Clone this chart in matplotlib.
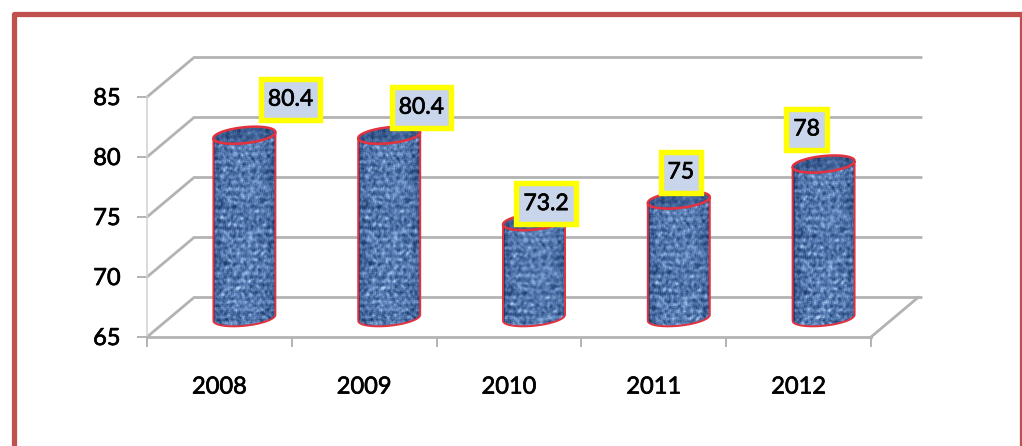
import numpy as np
import matplotlib
matplotlib.use("Agg")
import matplotlib.pyplot as plt
import matplotlib.patheffects as pe
from matplotlib.patches import PathPatch, Rectangle
from matplotlib.path import Path
from matplotlib.colors import LinearSegmentedColormap

years = ["2008", "2009", "2010", "2011", "2012"]
values = [80.4, 80.4, 73.2, 75, 78]
value_labels = ["80.4", "80.4", "73.2", "75", "78"]
y_ticks = [65, 70, 75, 80, 85]

W, H = 1022, 446
plt.rcParams["font.family"] = ["Lato", "DejaVu Sans"]
fig = plt.figure(figsize=(W / 100, H / 100), dpi=100, facecolor="white")

# outer frame
fig.add_artist(Rectangle((13.5 / W, -0.05), (1022 - 13.5) / W, 1.05 - 14.5 / H, transform=fig.transFigure,
                         fc="none", ec="#c0504d", lw=3.8, joinstyle="round"))

ax = fig.add_axes([147 / W, 1 - 337 / H, (871 - 147) / W, 240 / H])
ax.patch.set_alpha(0)

PXX = 724 / 5   # pixels per category
PXY = 12.0      # pixels per value unit
GRID = "#b3b3b3"
STROKE = [pe.withStroke(linewidth=0.5, foreground="black")]

# 3-D wall depth
back_dx, back_dy = 47 / PXX, 39.5 / PXY
for v in y_ticks:
    ax.plot([-0.5, -0.5 + back_dx, 4.5 + back_dx + 3 / PXX], [v, v + back_dy, v + back_dy],
            color=GRID, lw=2.0, clip_on=False, zorder=1, solid_joinstyle="miter")
ax.plot([4.5, 4.5 + back_dx], [65, 65 + back_dy], color=GRID, lw=2.0, clip_on=False, zorder=1)


def texture(h, w):
    i, j = np.mgrid[0:h, 0:w]
    n = np.sin(i * 12.9898 + j * 78.233) * 43758.5453
    n = n - np.floor(n)
    k = 3
    c = np.cumsum(np.cumsum(np.pad(n, ((k, 0), (k, 0))), axis=0), axis=1)
    s = (c[k:, k:] - c[:-k, k:] - c[k:, :-k] + c[:-k, :-k]) / (k * k)
    s = (s - s.mean()) / s.std()
    weave = 0.65 * np.sin(i * 2 * np.pi / 7.0) + 0.25 * np.sin(j * 2 * np.pi / 7.0)
    t = 0.5 + 0.17 * s + 0.15 * weave
    u = (j - w / 2) / (w / 2)
    t = t - 0.25 * np.abs(u) ** 3
    return np.clip(t, 0, 1)


cmap = LinearSegmentedColormap.from_list("weave", ["#1f3a68", "#41659b", "#6b90c6", "#b5cff0"])


def label_box(x0, y0, width, height, mutation_size):
    """Rectangle round a label, with more room above and below than at the sides."""
    px, py = 7.0, 10.0
    return Path([(x0 - px, y0 - py), (x0 + width + px, y0 - py), (x0 + width + px, y0 + height + py),
                 (x0 - px, y0 + height + py), (x0 - px, y0 - py)], closed=True)


# cylinders
off_x = 25 / PXX
off_top = 17 / PXY      # top cap centre above its value line
base_level = 66.6       # centre of the bottom ellipse
half_w = 31 / PXX
ry = 8.0 / PXY
tilt = 3.0 / PXY
t_front = np.linspace(np.pi, 2 * np.pi, 40)
t_all = np.linspace(0, 2 * np.pi, 80)
label_offsets_px = [(46, 36), (32, 28), (12, 18), (2, 28), (-17, 35)]

for idx, v in enumerate(values):
    cx = idx + off_x
    top = v + off_top
    xb = cx + half_w * np.cos(t_front)
    yb = base_level + ry * np.sin(t_front) + tilt * np.cos(t_front)
    xt = cx + half_w * np.cos(t_front[::-1])
    yt = top + ry * np.sin(t_front[::-1]) + tilt * np.cos(t_front[::-1])
    verts = np.vstack([np.column_stack([xb, yb]), np.column_stack([xt, yt])])
    tex_h = int((top - base_level + 2 * ry + 2 * tilt) * PXY)
    extent = (cx - half_w, cx + half_w, base_level - ry - tilt, top + ry + tilt)
    img = ax.imshow(texture(tex_h, 62), cmap=cmap, vmin=0, vmax=1, aspect="auto", zorder=3.1,
                    interpolation="bilinear", extent=extent)
    img.set_clip_path(PathPatch(Path(verts), transform=ax.transData))
    ax.add_patch(PathPatch(Path(np.vstack([verts, verts[:1]])), fc="none", ec="#e2323f", lw=1.4,
                           zorder=3.2, clip_on=False))
    xc = cx + half_w * np.cos(t_all)
    yc = top + ry * np.sin(t_all) + tilt * np.cos(t_all)
    cap_path = Path(np.column_stack([xc, yc]))
    cap_img = ax.imshow(texture(tex_h, 62) * 0.6, cmap=cmap, vmin=0, vmax=1, aspect="auto", zorder=3.3,
                        interpolation="bilinear", extent=extent)
    cap_img.set_clip_path(PathPatch(cap_path, transform=ax.transData))
    ax.add_patch(PathPatch(cap_path, fc="none", ec="#e2323f", lw=1.8, zorder=3.4, clip_on=False))
    ox, oy = label_offsets_px[idx]
    ax.annotate(value_labels[idx], xy=(cx, top), xytext=(ox * 0.72, oy * 0.72),
                textcoords="offset points", ha="center", va="center", fontsize=16.5, color="black", zorder=6,
                annotation_clip=False, path_effects=STROKE,
                bbox=dict(boxstyle=label_box, fc="#c9d5ea", ec="#ffff00", lw=3.9))

ax.set_xlim(-0.5, 4.5)
ax.set_ylim(65, 85)

for s in ("top", "right"):
    ax.spines[s].set_visible(False)
ax.spines["left"].set_color("#d4d4d4")
ax.spines["left"].set_linewidth(1.2)
ax.spines["bottom"].set_color(GRID)
ax.spines["bottom"].set_linewidth(2.0)

ax.set_yticks(y_ticks)
ax.set_yticklabels([])
ax.set_xticks(np.arange(-0.5, 5, 1))
ax.set_xticklabels([])
ax.set_xticks(np.arange(0, 5), labels=years, minor=True)
ax.tick_params(axis="x", which="major", length=7.5, width=1.4, color=GRID)
ax.tick_params(axis="x", which="minor", length=0, pad=28.5, labelsize=17, labelcolor="black")
ax.tick_params(axis="y", length=7.5, width=1.4, color=GRID)
for lab in ax.get_xticklabels(minor=True):
    lab.set_path_effects(STROKE)
for v in y_ticks:
    ax.annotate(str(v), xy=(0, v), xycoords=ax.get_yaxis_transform(), xytext=(-19, -5.8),
                textcoords="offset points", ha="right", va="baseline", fontsize=17, color="black",
                annotation_clip=False, path_effects=STROKE)

fig.savefig("out.png", dpi=100)
